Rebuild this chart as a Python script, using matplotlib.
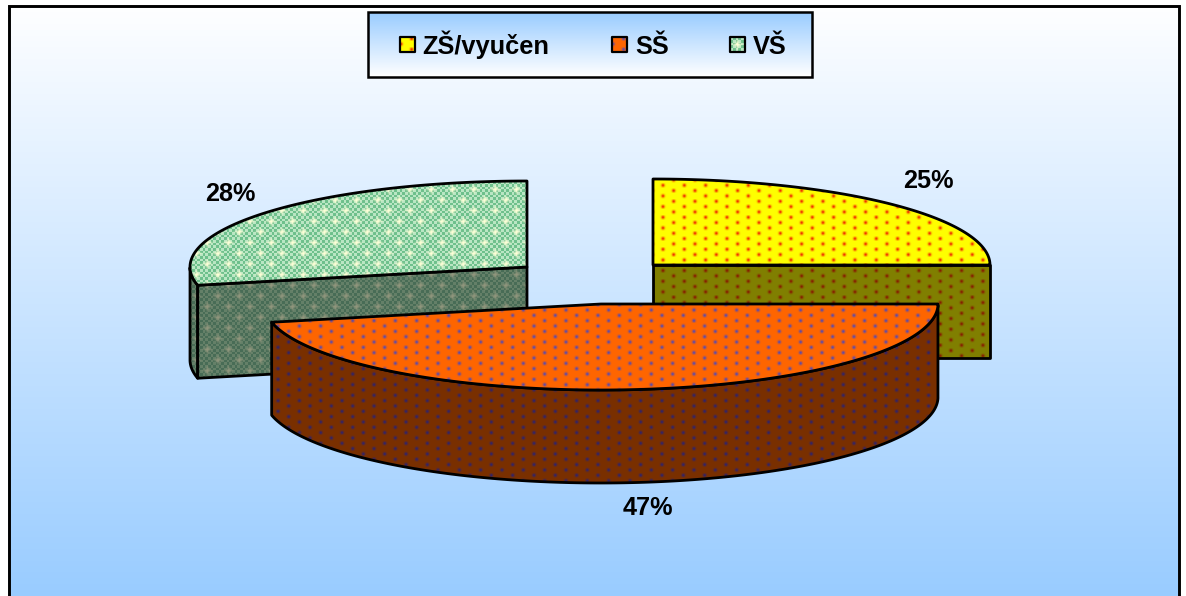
import numpy as np
import matplotlib
matplotlib.use("Agg")
import matplotlib.pyplot as plt
from matplotlib.patches import Polygon, Rectangle

categories = ["ZŠ/vyučen", "SŠ", "VŠ"]
shares = [25.0, 46.6, 28.4]
share_labels = ["25%", "47%", "28%"]

W, H = 1186, 596
RX, RY, DEPTH = 337, 86, 93
apexes = [(653, 265), (601, 304), (527, 267)]
label_pos = [(928, 181), (648, 508), (230, 194)]
legend_sw = [400, 612, 730]
legend_tx = [422, 635, 753]

plt.rcParams["font.family"] = ["Liberation Sans", "DejaVu Sans"]
fig = plt.figure(figsize=(W / 100, H / 100), dpi=100)
ax = fig.add_axes([0, 0, 1, 1])
ax.set_xlim(0, W)
ax.set_ylim(H, 0)
ax.axis("off")

yy, xx = np.mgrid[0:H, 0:W] + 0.5


def lattice_dist(phase, px=21.33, py=5.33):
    """Offsets to the nearest point of a staggered lattice through phase."""
    x, y = xx - phase[0], yy - phase[1]
    row = np.round(y / py)
    shift = (row % 2) * px / 2
    dx = (x - shift + px / 2) % px - px / 2
    dy = y - row * py
    return dx, dy


def dotted(base, dot, phase, sigma=1.25):
    dx, dy = lattice_dist(phase)
    a = np.exp(-(dx ** 2 + dy ** 2) / (2 * sigma ** 2))[..., None]
    return (np.array(base) * (1 - a) + np.array(dot) * a) / 255


def woven(c1, c2, star, phase):
    per = 5.33
    chk = ((np.floor(xx / (per / 2)) + np.floor(yy / (per / 2))) % 2)[..., None]
    img = np.array(c1) * chk + np.array(c2) * (1 - chk)
    dx, dy = lattice_dist(phase, 21.33, 10.67)
    a = np.exp(-(np.abs(dx) * np.abs(dy)) / 4.0 - (dx ** 2 + dy ** 2) / 20.0)[..., None]
    return (img * (1 - a) + np.array(star) * a) / 255


YP, OP, GP = (663, 185.3), (566, 374), (410, 253.3)
textures = [
    (dotted((255, 255, 0), (240, 50, 0), YP), dotted((128, 128, 0), (135, 30, 0), YP)),
    (dotted((255, 102, 0), (95, 75, 170), OP), dotted((122, 48, 0), (50, 35, 105), OP)),
    (woven((110, 192, 140), (185, 230, 195), (255, 255, 215), GP),
     woven((72, 108, 86), (100, 128, 104), (145, 150, 125), GP)),
]
swatches = [
    dotted((255, 255, 0), (240, 50, 0), (401, 44)),
    dotted((255, 102, 0), (95, 75, 170), (613, 44)),
    woven((110, 192, 140), (185, 230, 195), (255, 255, 215), (737.5, 44.5)),
]


def arc(cx, cy, t0, t1, n=200):
    t = np.linspace(t0, t1, n)
    return np.column_stack([cx + RX * np.sin(t), cy - RY * np.cos(t)])


def face(pts, tex, z, lw=2.0):
    im = ax.imshow(tex, extent=(0, W, H, 0), zorder=z, interpolation="nearest", aspect="auto")
    p = Polygon(pts, closed=True, fc="none", ec="none", transform=ax.transData)
    ax.add_patch(p)
    im.set_clip_path(p)
    ax.add_patch(Polygon(pts, closed=True, fc="none", ec="black", lw=lw, zorder=z + 0.1,
                         joinstyle="round"))


# outer background with its gradient and frame
grad = np.linspace(0, 1, H)[:, None, None]
bg = (1 - grad) * np.array([1, 1, 1.0]) + grad * np.array([153, 204, 255]) / 255
ax.imshow(bg, extent=(0, W, H, 0), zorder=0, aspect="auto")
ax.set_xlim(0, W)
ax.set_ylim(H, 0)
ax.plot([8.5, 8.5, 1179, 1179], [H + 5, 5.5, 5.5, H + 5], color="black", lw=2.1, zorder=1,
        solid_joinstyle="miter")
ax.add_patch(Rectangle((0, 0), 7.5, H, fc="white", ec="none", zorder=0.5))
ax.add_patch(Rectangle((1180, 0), 6, H, fc="white", ec="none", zorder=0.5))
ax.add_patch(Rectangle((0, 0), W, 4.5, fc="white", ec="none", zorder=0.5))

# pie: slices follow the shares, clockwise from the top
edges = np.cumsum([0] + shares) / sum(shares) * 2 * np.pi
order = [2, 0, 1]
for k, i in enumerate(order):
    cx, cy = apexes[i]
    t0, t1 = edges[i], edges[i + 1]
    top, side = textures[i]
    z = 2 + k
    rim = arc(cx, cy, t0, t1)
    front = rim[np.cos(np.linspace(t0, t1, len(rim))) <= 0]
    if len(front) > 1:
        low = front + [0, DEPTH]
        face(np.vstack([front, low[::-1]]), side, z)
    for t in (t0, t1):
        e = arc(cx, cy, t, t, 1)[0]
        # only the cut faces that look toward the viewer
        if e[1] >= cy and i != 1:
            face(np.array([[cx, cy], e, e + [0, DEPTH], [cx, cy + DEPTH]]), side, z)
    face(np.vstack([[cx, cy], rim]), top, z + 0.3)

for (x, y), s in zip(label_pos, share_labels):
    ax.text(x, y, s, ha="center", va="center", fontsize=18.2, fontweight="bold",
            color="black", zorder=10)

# legend
lx0, ly0, lx1, ly1 = 368, 12, 812, 77
g = np.linspace(0, 1, 100)[:, None, None]
lg = (1 - g) * np.array([153, 204, 255]) / 255 + g * np.array([1, 1, 1.0])
ax.imshow(lg, extent=(lx0, lx1, ly1, ly0), zorder=11, aspect="auto")
ax.set_xlim(0, W)
ax.set_ylim(H, 0)
ax.add_patch(Rectangle((lx0, ly0), lx1 - lx0, ly1 - ly0, fc="none", ec="black", lw=1.8, zorder=12))
for i, name in enumerate(categories):
    sw = legend_sw[i]
    pts = np.array([[sw, 37], [sw + 15, 37], [sw + 15, 52], [sw, 52]])
    face(pts, swatches[i], 13, lw=1.6)
    ax.text(legend_tx[i], 54, name, ha="left", va="baseline", fontsize=18.3, fontweight="bold",
            color="black", zorder=14)

fig.savefig("out.png", dpi=100, facecolor="white")
